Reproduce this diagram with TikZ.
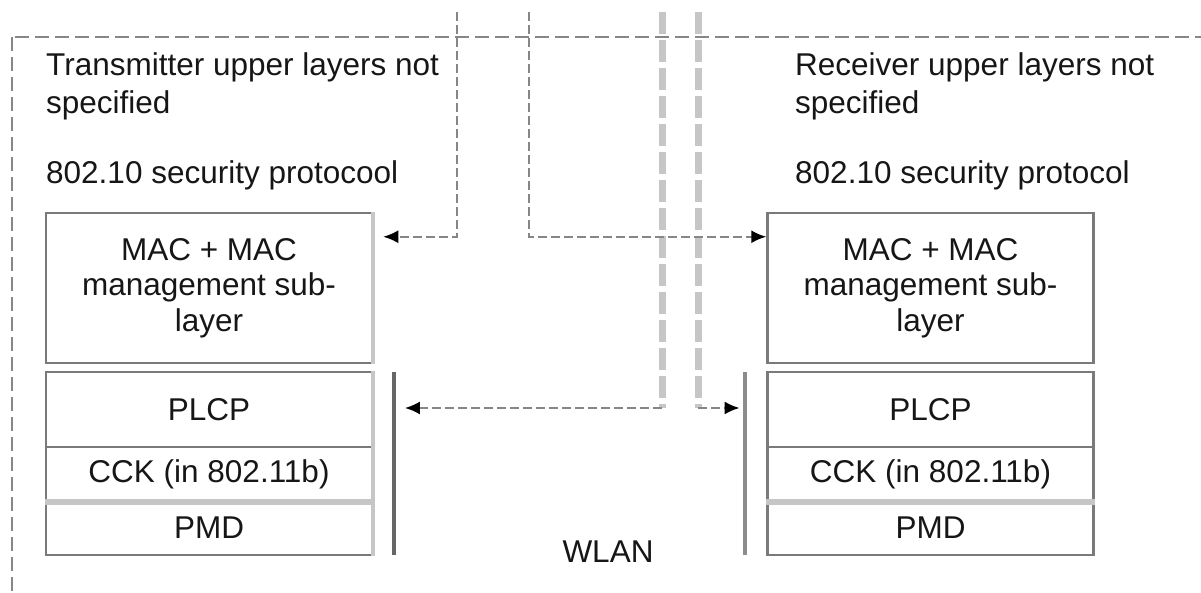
\documentclass[tikz,border=0pt]{standalone}
\usepackage{fontspec}
\setmainfont{Liberation Sans}
\usepackage{tikz}
\usetikzlibrary{arrows.meta, positioning}
\definecolor{boxgray}{HTML}{7A7A7A}
\definecolor{palegray}{HTML}{C6C6C6}
\definecolor{dashgray}{HTML}{868686}
\definecolor{ink}{HTML}{161616}
\tikzset{>={Latex[length=15pt,width=13pt,color=black]},
    layer/.style={rectangle,draw=boxgray,line width=2.5pt,minimum width=326pt,
        inner sep=0pt,text=ink,align=center,font=\fontsize{31.5}{35.5}\selectfont},
    mac/.style={layer,minimum height=150pt},
    plcp/.style={layer,minimum height=75pt},
    sub/.style={layer,minimum height=54pt},
    bar/.style={rectangle,minimum width=4pt,minimum height=183pt,inner sep=0pt},
    textnode/.style={anchor=west,align=left,inner sep=0pt,text=ink,
        font=\fontsize{31.5}{38}\selectfont},
    frame/.style={draw=dashgray,line width=2pt,dash pattern=on 14pt off 6pt},
    link/.style={->,draw=dashgray,line width=2pt,dash pattern=on 9pt off 4pt},
    faint/.style={draw=palegray,line width=7pt,dash pattern=on 22pt off 6pt},
    edge/.style={draw=palegray,line width=#1}}

\begin{document}
\begin{tikzpicture}[x=1pt,y=1pt]
\useasboundingbox (0,0) rectangle (1201,593);
\draw[frame] (15,556) -- (1201,556);
\draw[frame] (12,556) -- (12,0);

% transmitter side
\node[textnode] (upT)  at (46,507) {Transmitter upper layers not\\specified};
\node[textnode] (secT) at (46,418) {802.10 security protocool};
\node[mac] (macT) at (209,305) {MAC + MAC\\management sub-\\layer};
\node[plcp,node distance=121.5pt] (plcpT) [below of = macT]  {PLCP};
\node[sub,node distance=64.5pt]   (cckT)  [below of = plcpT] {CCK (in 802.11b)};
\node[sub,node distance=54pt]     (pmdT)  [below of = cckT]  {PMD};
\node[bar,fill=black!60,minimum width=3.5pt] (barT) at (394,129.5) {};
\draw[edge=4pt] (macT.north east) -- (macT.south east);
\draw[edge=4pt] (plcpT.north east) -- (pmdT.south east);
\draw[edge=6pt] (cckT.south west) -- (cckT.south east);

% receiver side
\node[textnode] (upR)  at (795,507) {Receiver upper layers not\\specified};
\node[textnode] (secR) at (795,418) {802.10 security protocol};
\node[mac] (macR) at (930.5,305) {MAC + MAC\\management sub-\\layer};
\node[plcp,node distance=121.5pt] (plcpR) [below of = macR]  {PLCP};
\node[sub,node distance=64.5pt]   (cckR)  [below of = plcpR] {CCK (in 802.11b)};
\node[sub,node distance=54pt]     (pmdR)  [below of = cckR]  {PMD};
\node[bar,fill=black!45,minimum width=4.5pt] (barR) at (745,129.5) {};
\draw[edge=6pt] (cckR.south west) -- (cckR.south east);

\node[textnode,anchor=center] (wlan) at (608,41) {WLAN};

% connectors
\coordinate (srcT) at (457,581);
\coordinate (srcR) at (529,581);
\coordinate (phyT) at (662,581);
\coordinate (phyR) at (698,581);
\coordinate (bendT) at (662,185);
\coordinate (bendR) at (698,185);
\draw[faint] (phyT) -- (bendT);
\draw[faint] (phyR) -- (bendR);
\draw[link,shorten >=10pt] (srcT) |- ([yshift=-25pt]macT.north east);
\draw[link] (srcR) |- ([yshift=-25pt]macR.north west);
\draw[link,shorten >=9pt] (bendT) -- (bendT -| barT.east);
\draw[link,shorten >=3pt] (bendR) -- (bendR -| barR.west);
\end{tikzpicture}
\end{document}
